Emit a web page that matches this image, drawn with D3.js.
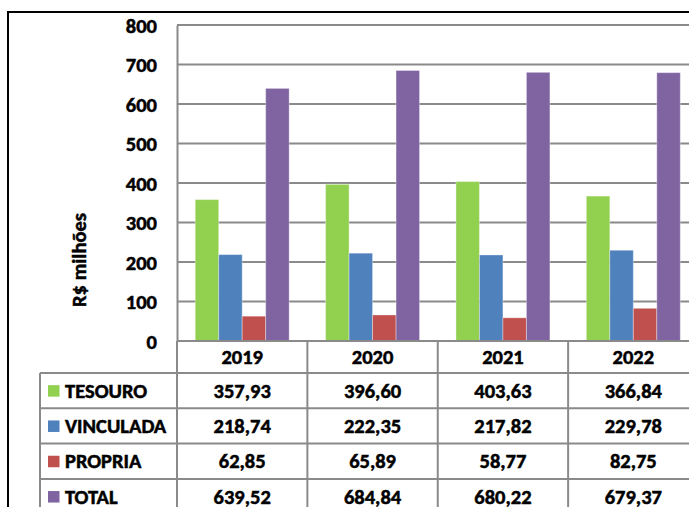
<!DOCTYPE html>
<html>
<head>
<meta charset="utf-8">
<script src="https://cdn.jsdelivr.net/npm/d3@7"></script>
<style>
  body { margin: 0; background: #fff; }
  text { font-family: Carlito, Lato, "Open Sans", sans-serif; font-weight: bold; fill: #000; stroke: #000; stroke-width: 0.5px; }
</style>
</head>
<body>
<div id="chart"></div>
<script>
// data
const years = ['2019', '2020', '2021', '2022']
const series = ['TESOURO', 'VINCULADA', 'PROPRIA', 'TOTAL']
const tesouro = [357.93, 396.60, 403.63, 366.84]
const vinculada = [218.74, 222.35, 217.82, 229.78]
const propria = [62.85, 65.89, 58.77, 82.75]
const total = [639.52, 684.84, 680.22, 679.37]
const yTicks = [0, 100, 200, 300, 400, 500, 600, 700, 800]

const values = [tesouro, vinculada, propria, total]
const colors = ['#92d050', '#4f81bd', '#c0504d', '#8064a2']

const width = 689
const height = 507
const plotLeft = 177
const plotRight = 698.5
const plotTop = 25
const plotBottom = 341
const rowH = 35.3
const headerBottom = 373
const legendLeft = 40
const gridColor = '#8a8a8a'
const fs = 20.5

const fmt = v => d3.format('.2f')(v).replace('.', ',')

const svg = d3.select('#chart').append('svg')
  .attr('width', width)
  .attr('height', height)

// outer black frame
svg.append('rect')
  .attr('x', 8).attr('y', 12)
  .attr('width', 760).attr('height', 600)
  .attr('fill', 'none').attr('stroke', '#000').attr('stroke-width', 2)

const x0 = d3.scaleBand().domain(years).range([plotLeft, plotRight])
const x1 = d3.scaleBand().domain(series).range([0, x0.bandwidth()]).paddingOuter(0.775)
const y = d3.scaleLinear().domain([0, 800]).range([plotBottom, plotTop])

// gridlines
svg.append('g').selectAll('line')
  .data(yTicks.filter(d => d > 0))
  .join('line')
  .attr('x1', plotLeft).attr('x2', plotRight)
  .attr('y1', d => y(d)).attr('y2', d => y(d))
  .attr('stroke', gridColor).attr('stroke-width', 2)

// y axis
const yAxis = svg.append('g')
  .attr('transform', `translate(${plotLeft},0)`)
  .call(d3.axisLeft(y).tickValues(yTicks).tickSize(0).tickPadding(20))
yAxis.select('.domain').attr('stroke', gridColor).attr('stroke-width', 2)
yAxis.selectAll('text')
  .attr('font-size', fs)
  .attr('font-family', null)
  .attr('dy', '0.36em')

svg.append('text')
  .attr('transform', `translate(86,260) rotate(-90)`)
  .attr('text-anchor', 'middle')
  .attr('font-size', fs)
  .text('R$ milhões')

// bars
const groups = svg.append('g').selectAll('g')
  .data(years)
  .join('g')
  .attr('transform', d => `translate(${x0(d)},0)`)

groups.selectAll('rect')
  .data((d, i) => series.map((s, j) => ({ s, j, v: values[j][i] })))
  .join('rect')
  .attr('x', d => x1(d.s))
  .attr('width', x1.bandwidth())
  .attr('y', d => y(d.v))
  .attr('height', d => y(0) - y(d.v))
  .attr('fill', d => colors[d.j])
  .attr('stroke', 'rgba(255,255,255,0.35)')
  .attr('stroke-width', 1)

// data table
const tbl = svg.append('g')
const rowTops = series.map((s, i) => headerBottom + i * rowH)
const tableBottom = headerBottom + series.length * rowH

// horizontal lines
tbl.append('line')
  .attr('x1', plotLeft).attr('x2', plotRight)
  .attr('y1', plotBottom).attr('y2', plotBottom)
  .attr('stroke', gridColor).attr('stroke-width', 2)
tbl.selectAll('.hline')
  .data(rowTops.concat([tableBottom]))
  .join('line')
  .attr('x1', legendLeft).attr('x2', plotRight)
  .attr('y1', d => d).attr('y2', d => d)
  .attr('stroke', gridColor).attr('stroke-width', 2)

// vertical lines
tbl.selectAll('.vline')
  .data(years.map(d => x0(d)).concat([plotRight]))
  .join('line')
  .attr('x1', d => d).attr('x2', d => d)
  .attr('y1', plotBottom).attr('y2', tableBottom)
  .attr('stroke', gridColor).attr('stroke-width', 2)
tbl.append('line')
  .attr('x1', legendLeft).attr('x2', legendLeft)
  .attr('y1', headerBottom).attr('y2', tableBottom)
  .attr('stroke', gridColor).attr('stroke-width', 2)

// header years
tbl.selectAll('.year')
  .data(years)
  .join('text')
  .attr('x', d => x0(d) + x0.bandwidth() / 2)
  .attr('y', (plotBottom + headerBottom) / 2 + 7)
  .attr('text-anchor', 'middle')
  .attr('font-size', fs)
  .text(d => d)

// legend cells
series.forEach((s, j) => {
  const cy = rowTops[j] + rowH / 2
  tbl.append('rect')
    .attr('x', 48).attr('y', cy - 5.5)
    .attr('width', 11.5).attr('height', 11.5)
    .attr('fill', colors[j])
  tbl.append('text')
    .attr('x', 65).attr('y', cy + 7)
    .attr('font-size', fs)
    .text(s)
  tbl.selectAll(null)
    .data(values[j])
    .join('text')
    .attr('x', (d, i) => x0(years[i]) + x0.bandwidth() / 2)
    .attr('y', cy + 7)
    .attr('text-anchor', 'middle')
    .attr('font-size', fs)
    .text(d => fmt(d))
})
</script>
</body>
</html>
